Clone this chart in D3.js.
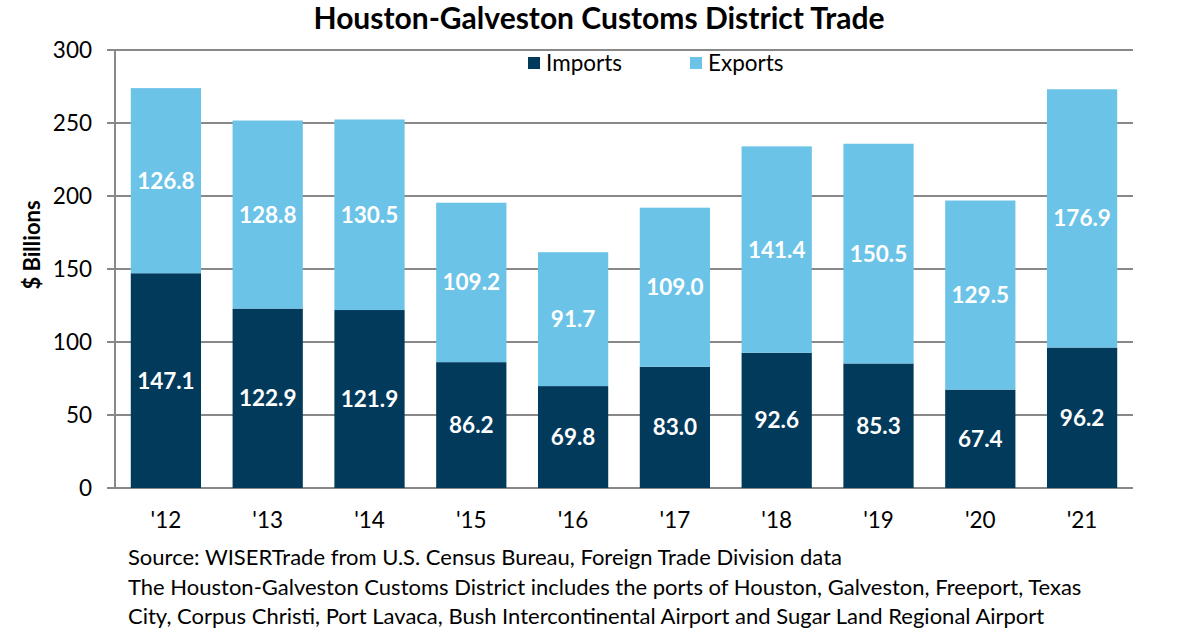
<!DOCTYPE html>
<html><head><meta charset="utf-8">
<script src="https://cdn.jsdelivr.net/npm/d3@7"></script>
<style>body{margin:0;background:#fff}svg{display:block}</style>
</head><body>
<script>
const years = ["'12","'13","'14","'15","'16","'17","'18","'19","'20","'21"];
const imports = [147.1,122.9,121.9,86.2,69.8,83.0,92.6,85.3,67.4,96.2];
const exports = [126.8,128.8,130.5,109.2,91.7,109.0,141.4,150.5,129.5,176.9];
const yTicks = [0,50,100,150,200,250,300];
const seriesNames = ["Imports","Exports"];
const colors = ["#023a5c","#6cc3e8"];

const W=1195,H=641;
const font = "Lato, 'Open Sans', sans-serif";
const svg = d3.select("body").append("svg").attr("width",W).attr("height",H);
const m={left:115,right:1133,top:50,bottom:488};
const x = d3.scaleBand().domain(years).range([m.left,m.right]).paddingInner(0.31).paddingOuter(0.155);
const y = d3.scaleLinear().domain([0,300]).range([m.bottom,m.top]);

// grid
svg.append("g").selectAll("line").data(yTicks).join("line")
  .attr("x1",107).attr("x2",m.right).attr("y1",d=>y(d)).attr("y2",d=>y(d))
  .attr("stroke","#888").attr("stroke-width",2);
svg.append("line").attr("x1",m.left).attr("x2",m.left).attr("y1",m.top).attr("y2",m.bottom).attr("stroke","#888").attr("stroke-width",2);
svg.append("g").selectAll("text").data(yTicks).join("text")
  .attr("x",92).attr("y",d=>y(d)+8).attr("text-anchor","end")
  .attr("font-family",font).attr("font-size",22.5).attr("fill","#000").text(d=>d);

const stackData = years.map((yr,i)=>({yr,Imports:imports[i],Exports:exports[i]}));
const stack = d3.stack().keys(seriesNames)(stackData);
const g = svg.append("g");
stack.forEach((s,si)=>{
  g.append("g").selectAll("rect").data(s).join("rect")
    .attr("x",d=>x(d.data.yr)).attr("width",x.bandwidth())
    .attr("y",d=>y(d[1])).attr("height",d=>y(d[0])-y(d[1]))
    .attr("fill",colors[si]);
  g.append("g").selectAll("text").data(s).join("text")
    .attr("x",d=>x(d.data.yr)+x.bandwidth()/2)
    .attr("y",d=>(y(d[0])+y(d[1]))/2+8)
    .attr("text-anchor","middle").attr("font-family",font).attr("font-weight","bold")
    .attr("font-size",22.5).attr("fill","#fff")
    .text(d=>(d[1]-d[0]).toFixed(1));
});

// x labels
svg.append("g").selectAll("text").data(years).join("text")
  .attr("x",d=>x(d)+x.bandwidth()/2).attr("y",528).attr("text-anchor","middle")
  .attr("font-family",font).attr("font-size",22.5).attr("fill","#000").text(d=>d);

// title
svg.append("text").attr("x",599).attr("y",29).attr("text-anchor","middle")
  .attr("font-family",font).attr("font-weight","bold").attr("font-size",30).text("Houston-Galveston Customs District Trade");
// y title
svg.append("text").attr("transform","translate(40,245) rotate(-90)").attr("text-anchor","middle")
  .attr("font-family",font).attr("font-weight","bold").attr("font-size",22).text("$ Billions");

// legend
const lx=[528,690];
seriesNames.forEach((n,i)=>{
  svg.append("rect").attr("x",lx[i]).attr("y",57).attr("width",12).attr("height",12).attr("fill",colors[i]);
  svg.append("text").attr("x",lx[i]+18).attr("y",71).attr("font-family",font).attr("font-size",22.5).text(n);
});

// footnotes
const notes=["Source: WISERTrade from U.S. Census Bureau, Foreign Trade Division data",
"The Houston-Galveston Customs District includes the ports of Houston, Galveston, Freeport, Texas",
"City, Corpus Christi, Port Lavaca, Bush Intercontinental Airport and Sugar Land Regional Airport"];
svg.append("g").selectAll("text").data(notes).join("text")
  .attr("x",128).attr("y",(d,i)=>565+i*29.5).attr("font-family",font).attr("font-size",22).text(d=>d);
</script>
</body></html>
